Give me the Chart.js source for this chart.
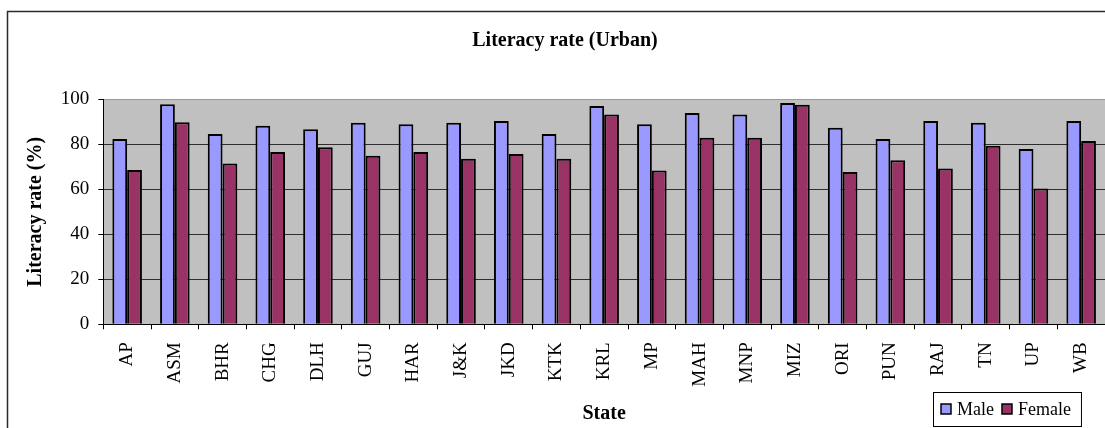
<!DOCTYPE html>
<html>
<head>
<meta charset="utf-8">
<script src="https://cdn.jsdelivr.net/npm/chart.js@4/dist/chart.umd.min.js"></script>
<style>
  html, body { margin: 0; padding: 0; background: #fff; overflow: hidden; }
  #wrap { width: 1130px; height: 428px; }
</style>
</head>
<body>
<div id="wrap"><canvas id="c" width="1130" height="428"></canvas></div>
<script>
// Urban literacy rate by state, percent
const states = ['AP','ASM','BHR','CHG','DLH','GUJ','HAR','J&K','JKD','KTK','KRL','MP','MAH','MNP','MIZ','ORI','PUN','RAJ','TN','UP','WB'];
const maleRate   = [82.4, 97.8, 84.6, 88.3, 86.7, 89.6, 88.9, 89.6, 90.4, 84.6, 97.0, 88.9, 93.9, 93.3, 98.4, 87.4, 82.4, 90.4, 89.6, 77.9, 90.4];
const femaleRate = [68.6, 89.8, 71.5, 76.6, 78.7, 74.9, 76.6, 73.6, 75.7, 73.6, 93.3, 68.4, 82.9, 82.9, 97.6, 67.7, 72.9, 69.2, 79.4, 60.4, 81.5];
const yTicks = [0, 20, 40, 60, 80, 100];

const SERIF = '"Liberation Serif", "Times New Roman", serif';

// Outer frame and grey plot background
const framePlugin = {
  id: 'frame',
  beforeDraw(chart) {
    const { ctx, chartArea: a } = chart;
    ctx.save();
    ctx.fillStyle = '#c0c0c0';
    ctx.fillRect(a.left, a.top, a.right - a.left, a.bottom - a.top);
    ctx.strokeStyle = '#2a2a2a';
    ctx.lineWidth = 1.5;
    ctx.strokeRect(7.5, 11.5, chart.width - 15, 1000);
    ctx.restore();
  }
};

// Boxed legend in the lower right corner
const boxLegend = {
  id: 'boxLegend',
  afterDraw(chart) {
    const { ctx } = chart;
    const x0 = 933, y0 = 392, h = 34;
    const sq = 10, cy = y0 + h / 2;
    ctx.save();
    ctx.font = '18px ' + SERIF;
    ctx.textBaseline = 'middle';
    let x = x0 + 8;
    const items = chart.data.datasets.map(ds => ({ label: ds.label, color: ds.backgroundColor }));
    const parts = [];
    items.forEach((it, i) => {
      parts.push({ it, sx: x });
      x += sq + 6;
      const w = ctx.measureText(it.label).width;
      parts[i].tx = x;
      x += w + (i < items.length - 1 ? 8 : 10);
    });
    ctx.fillStyle = '#fff';
    ctx.fillRect(x0 + 0.5, y0 + 0.5, x - x0, h);
    ctx.strokeStyle = '#000';
    ctx.lineWidth = 1;
    ctx.strokeRect(x0 + 0.5, y0 + 0.5, x - x0, h);
    parts.forEach(p => {
      ctx.fillStyle = p.it.color;
      ctx.fillRect(p.sx, cy - sq / 2, sq, sq);
      ctx.strokeStyle = '#000';
      ctx.lineWidth = 1.5;
      ctx.strokeRect(p.sx, cy - sq / 2, sq, sq);
      ctx.fillStyle = '#000';
      ctx.fillText(p.it.label, p.tx, cy + 1);
    });
    ctx.restore();
  }
};

new Chart(document.getElementById('c'), {
  type: 'bar',
  data: {
    labels: states,
    datasets: [
      { label: 'Male', data: maleRate, backgroundColor: '#9999ff', borderColor: '#000', borderWidth: 2 },
      { label: 'Female', data: femaleRate, backgroundColor: '#993366', borderColor: '#000', borderWidth: 2 }
    ]
  },
  options: {
    responsive: false,
    animation: false,
    devicePixelRatio: 1,
    layout: { padding: 0 },
    datasets: { bar: { barPercentage: 1, categoryPercentage: 0.62 } },
    plugins: {
      legend: { display: false },
      tooltip: { enabled: false },
      title: {
        display: true,
        text: 'Literacy rate (Urban)',
        color: '#000',
        font: { family: SERIF, size: 20, weight: 'bold', lineHeight: 1.2 },
        padding: { top: 29, bottom: 46.3 }
      }
    },
    scales: {
      x: {
        grid: { display: true, drawOnChartArea: false, offset: true, tickLength: 5, tickColor: '#000', lineWidth: 1 },
        border: { display: true, color: '#000', width: 1 },
        ticks: {
          autoSkip: false, minRotation: 90, maxRotation: 90, padding: 13,
          color: '#000', font: { family: SERIF, size: 19 }
        },
        title: {
          display: true, text: 'State', color: '#000',
          font: { family: SERIF, size: 20, weight: 'bold', lineHeight: 1.2 },
          padding: { top: 0, bottom: 2 }
        },
        afterFit(s) { s.height = 103.7; s.paddingLeft = 0; s.paddingRight = 25; }
      },
      y: {
        min: 0, max: 100,
        afterBuildTicks(s) { s.ticks = yTicks.map(v => ({ value: v })); },
        grid: {
          color: c => (c.tick && c.tick.value === 100 ? '#9a9a9a' : '#2e2e2e'),
          lineWidth: 1, tickLength: 5, tickColor: '#000'
        },
        border: { display: true, color: '#000', width: 1 },
        ticks: { padding: 9, color: '#000', font: { family: SERIF, size: 19 } },
        title: {
          display: true, text: 'Literacy rate (%)', color: '#000',
          font: { family: SERIF, size: 20, weight: 'bold', lineHeight: 1.2 },
          padding: { top: 23.5, bottom: 0 }
        },
        afterFit(s) { s.width = 103.3; }
      }
    }
  },
  plugins: [framePlugin, boxLegend]
});
</script>
</body>
</html>
